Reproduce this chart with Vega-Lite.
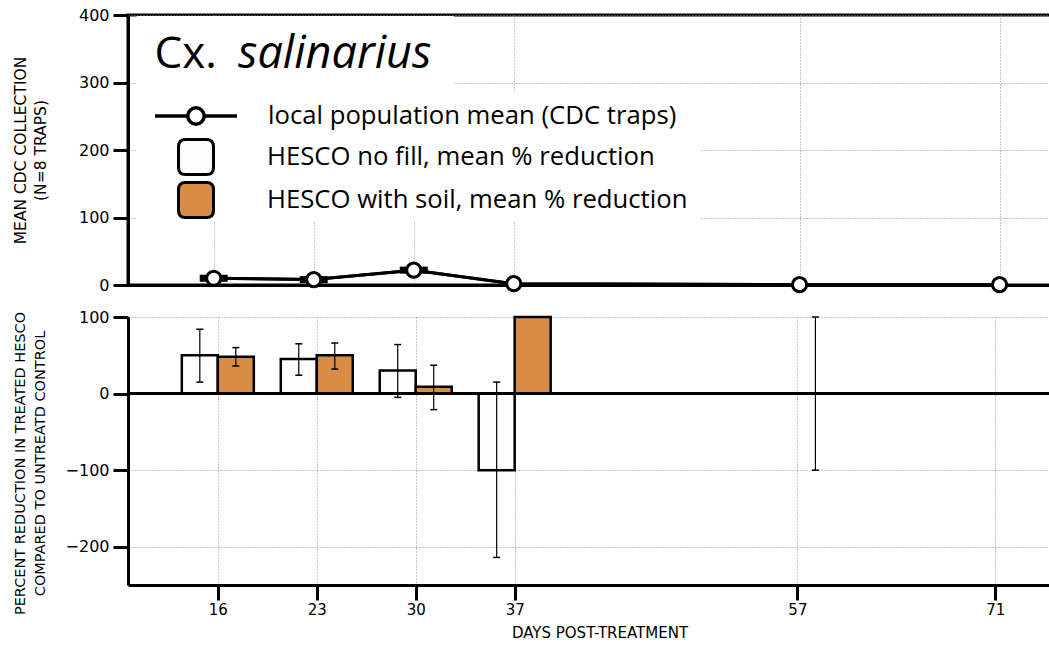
{
  "$schema": "https://vega.github.io/schema/vega-lite/v6.json",
  "padding": {"left": 11, "top": 5, "right": 0, "bottom": 0},
  "spacing": 9,
  "config": {
    "font": "DejaVu Sans",
    "view": {"stroke": null},
    "axis": {
      "labelFont": "DejaVu Sans", "titleFont": "DejaVu Sans",
      "labelColor": "black", "titleColor": "black",
      "domainColor": "black", "tickColor": "black",
      "domainWidth": 3, "tickWidth": 3, "tickSize": 15,
      "labelFontSize": 16, "titleFontSize": 14.5, "titleFontWeight": "normal",
      "gridColor": "#8a8a8a", "gridDash": [1, 2], "gridWidth": 1,
      "labelPadding": 4, "titleLineHeight": 20
    }
  },
  "datasets": {
    "pop": [
      {"day": 16, "mean": 10, "se": 3},
      {"day": 23, "mean": 8, "se": 3},
      {"day": 30, "mean": 22, "se": 3},
      {"day": 37, "mean": 2, "se": null},
      {"day": 57, "mean": 0.5, "se": null},
      {"day": 71, "mean": 0.5, "se": null}
    ],
    "red": [
      {"day": 16, "series": "HESCO no fill, mean % reduction", "value": 50, "lo": 15, "hi": 84},
      {"day": 16, "series": "HESCO with soil, mean % reduction", "value": 48, "lo": 36, "hi": 60},
      {"day": 23, "series": "HESCO no fill, mean % reduction", "value": 45, "lo": 24, "hi": 65},
      {"day": 23, "series": "HESCO with soil, mean % reduction", "value": 50, "lo": 32, "hi": 66},
      {"day": 30, "series": "HESCO no fill, mean % reduction", "value": 30, "lo": -5, "hi": 64},
      {"day": 30, "series": "HESCO with soil, mean % reduction", "value": 9, "lo": -21, "hi": 37},
      {"day": 37, "series": "HESCO no fill, mean % reduction", "value": -100, "lo": -214, "hi": 15},
      {"day": 37, "series": "HESCO with soil, mean % reduction", "value": 100, "lo": null, "hi": null},
      {"day": 57, "series": "HESCO no fill, mean % reduction", "value": 0, "lo": null, "hi": null},
      {"day": 57, "series": "HESCO with soil, mean % reduction", "value": 0, "lo": -100, "hi": 100},
      {"day": 71, "series": "HESCO no fill, mean % reduction", "value": 0, "lo": null, "hi": null},
      {"day": 71, "series": "HESCO with soil, mean % reduction", "value": 0, "lo": null, "hi": null}
    ],
    "titleparts": [
      {"label": "Cx.", "style": "normal"}
    ],
    "titleitalic": [
      {"label": "salinarius"}
    ],
    "titlebox": [
      {"box": "title"}
    ],
    "legendbox": [
      {"box": "legend"}
    ],
    "zeroline": [
      {"ref": 0}
    ]
  },
  "vconcat": [
    {
      "width": 943,
      "height": 270,
      "view": {"stroke": "black", "strokeWidth": 3},
      "layer": [
        {
          "data": {"name": "pop"},
          "mark": {"type": "line", "strokeWidth": 3},
          "encoding": {
            "x": {
              "field": "day", "type": "quantitative",
              "scale": {"domain": [10, 76], "nice": false, "zero": false},
              "axis": {"values": [16, 23, 30, 37, 57, 71], "labels": false, "ticks": false, "title": null, "grid": true, "domain": true}
            },
            "y": {
              "field": "mean", "type": "quantitative",
              "scale": {"domain": [0, 400], "nice": false},
              "axis": {"values": [0, 100, 200, 300, 400], "title": ["MEAN CDC COLLECTION", "(N=8 TRAPS)"], "titleFontSize": 15.5, "titlePadding": 30, "grid": true}
            },
            "stroke": {
              "datum": "local population mean (CDC traps)",
              "scale": {"range": ["black"]},
              "legend": {
                "orient": "none", "legendX": 25, "legendY": 58, "title": null, "padding": 0,
                "symbolType": "M-1,0L-0.2,0M0.2,0L1,0M-0.2,0A0.2,0.2,0,1,1,0.2,0A0.2,0.2,0,1,1,-0.2,0Z",
                "symbolSize": 6724, "symbolStrokeWidth": 3.5, "symbolFillColor": "white", "symbolStrokeColor": "black",
                "labelFont": "Open Sans", "labelFontSize": 25.7, "labelColor": "black", "labelOffset": 29, "labelLimit": 800
              }
            }
          }
        },
        {
          "data": {"name": "titlebox"},
          "mark": {"type": "rect", "fill": "white"},
          "encoding": {
            "x": {"datum": 10.6, "type": "quantitative"},
            "x2": {"datum": 32.8},
            "y": {"datum": 286, "type": "quantitative"},
            "y2": {"datum": 398.5}
          }
        },
        {
          "data": {"name": "legendbox"},
          "mark": {"type": "rect", "fill": "white"},
          "encoding": {
            "x": {"datum": 10.6, "type": "quantitative"},
            "x2": {"datum": 50},
            "y": {"datum": 94, "type": "quantitative"},
            "y2": {"datum": 287}
          }
        },
        {
          "data": {"name": "pop"},
          "transform": [{"filter": "datum.se != null"}],
          "mark": {"type": "tick", "orient": "horizontal", "size": 28, "thickness": 7, "color": "black", "opacity": 1},
          "encoding": {
            "x": {"field": "day", "type": "quantitative"},
            "y": {"field": "mean", "type": "quantitative"}
          }
        },
        {
          "data": {"name": "pop"},
          "mark": {"type": "line", "strokeWidth": 3, "color": "black"},
          "encoding": {
            "x": {"field": "day", "type": "quantitative"},
            "y": {"field": "mean", "type": "quantitative"}
          }
        },
        {
          "data": {"name": "pop"},
          "mark": {"type": "point", "filled": true, "fill": "white", "stroke": "black", "strokeWidth": 3, "size": 200, "opacity": 1},
          "encoding": {
            "x": {"field": "day", "type": "quantitative"},
            "y": {"field": "mean", "type": "quantitative"}
          }
        },
        {
          "data": {"name": "titleparts"},
          "mark": {"type": "text", "fontSize": 44, "align": "left", "baseline": "alphabetic", "font": "Open Sans", "color": "black"},
          "encoding": {
            "text": {"field": "label"},
            "x": {"datum": 11.85, "type": "quantitative"},
            "y": {"datum": 321, "type": "quantitative"}
          }
        },
        {
          "data": {"name": "titleitalic"},
          "mark": {"type": "text", "fontSize": 45, "fontStyle": "italic", "align": "left", "baseline": "alphabetic", "font": "Open Sans", "color": "black"},
          "encoding": {
            "text": {"field": "label"},
            "x": {"datum": 17.7, "type": "quantitative"},
            "y": {"datum": 321, "type": "quantitative"}
          }
        }
      ]
    },
    {
      "width": 943,
      "height": 268,
      "layer": [
        {
          "data": {"name": "red"},
          "transform": [{"filter": "datum.series == 'HESCO no fill, mean % reduction'"}],
          "mark": {"type": "bar", "width": 36, "xOffset": -18, "stroke": "black", "strokeWidth": 2.5},
          "encoding": {
            "x": {
              "field": "day", "type": "quantitative",
              "scale": {"domain": [10, 76], "nice": false, "zero": false},
              "axis": {"values": [16, 23, 30, 37, 57, 71], "title": "DAYS POST-TREATMENT", "titleFontSize": 15, "labelFontSize": 15, "grid": true, "labelPadding": 2, "titlePadding": 8}
            },
            "y": {
              "field": "value", "type": "quantitative",
              "scale": {"domain": [-250, 100], "nice": false},
              "axis": {"values": [-200, -100, 0, 100], "title": ["PERCENT REDUCTION IN TREATED HESCO", "COMPARED TO UNTREATD CONTROL"], "titlePadding": 18, "titleY": 146, "grid": true}
            },
            "fill": {
              "field": "series", "type": "nominal",
              "scale": {"domain": ["HESCO no fill, mean % reduction", "HESCO with soil, mean % reduction"], "range": ["#FDFDFD", "#D98C45"]},
              "legend": {
                "orient": "none", "legendX": 49, "legendY": 123, "title": null, "padding": 0,
                "symbolType": "M-1,-0.6Q-1,-1,-0.6,-1L0.6,-1Q1,-1,1,-0.6L1,0.6Q1,1,0.6,1L-0.6,1Q-1,1,-1,0.6Z",
                "symbolSize": 1225, "symbolStrokeColor": "black", "symbolStrokeWidth": 3,
                "rowPadding": -7,
                "labelFont": "Open Sans", "labelFontSize": 25.7, "labelColor": "black", "labelOffset": 52, "labelLimit": 800
              }
            }
          }
        },
        {
          "data": {"name": "red"},
          "transform": [{"filter": "datum.series == 'HESCO with soil, mean % reduction'"}],
          "mark": {"type": "bar", "width": 36, "xOffset": 18, "stroke": "black", "strokeWidth": 2.5},
          "encoding": {
            "x": {"field": "day", "type": "quantitative"},
            "y": {"field": "value", "type": "quantitative"},
            "fill": {"field": "series", "type": "nominal"}
          }
        },
        {
          "data": {"name": "zeroline"},
          "mark": {"type": "rule", "strokeWidth": 3, "color": "black"},
          "encoding": {"y": {"field": "ref", "type": "quantitative"}}
        },
        {
          "data": {"name": "red"},
          "transform": [{"filter": "datum.series == 'HESCO no fill, mean % reduction' && datum.lo != null"}],
          "mark": {"type": "rule", "strokeWidth": 1.2, "color": "black", "xOffset": -18},
          "encoding": {
            "x": {"field": "day", "type": "quantitative"},
            "y": {"field": "lo", "type": "quantitative"},
            "y2": {"field": "hi"}
          }
        },
        {
          "data": {"name": "red"},
          "transform": [{"filter": "datum.series == 'HESCO with soil, mean % reduction' && datum.lo != null"}],
          "mark": {"type": "rule", "strokeWidth": 1.2, "color": "black", "xOffset": 18},
          "encoding": {
            "x": {"field": "day", "type": "quantitative"},
            "y": {"field": "lo", "type": "quantitative"},
            "y2": {"field": "hi"}
          }
        },
        {
          "data": {"name": "red"},
          "transform": [{"filter": "datum.series == 'HESCO no fill, mean % reduction' && datum.lo != null"}, {"fold": ["lo", "hi"], "as": ["end", "v"]}],
          "mark": {"type": "tick", "orient": "horizontal", "size": 7, "thickness": 1.5, "color": "black", "opacity": 1, "xOffset": -18},
          "encoding": {
            "x": {"field": "day", "type": "quantitative"},
            "y": {"field": "v", "type": "quantitative"}
          }
        },
        {
          "data": {"name": "red"},
          "transform": [{"filter": "datum.series == 'HESCO with soil, mean % reduction' && datum.lo != null"}, {"fold": ["lo", "hi"], "as": ["end", "v"]}],
          "mark": {"type": "tick", "orient": "horizontal", "size": 7, "thickness": 1.5, "color": "black", "opacity": 1, "xOffset": 18},
          "encoding": {
            "x": {"field": "day", "type": "quantitative"},
            "y": {"field": "v", "type": "quantitative"}
          }
        }
      ]
    }
  ]
}
